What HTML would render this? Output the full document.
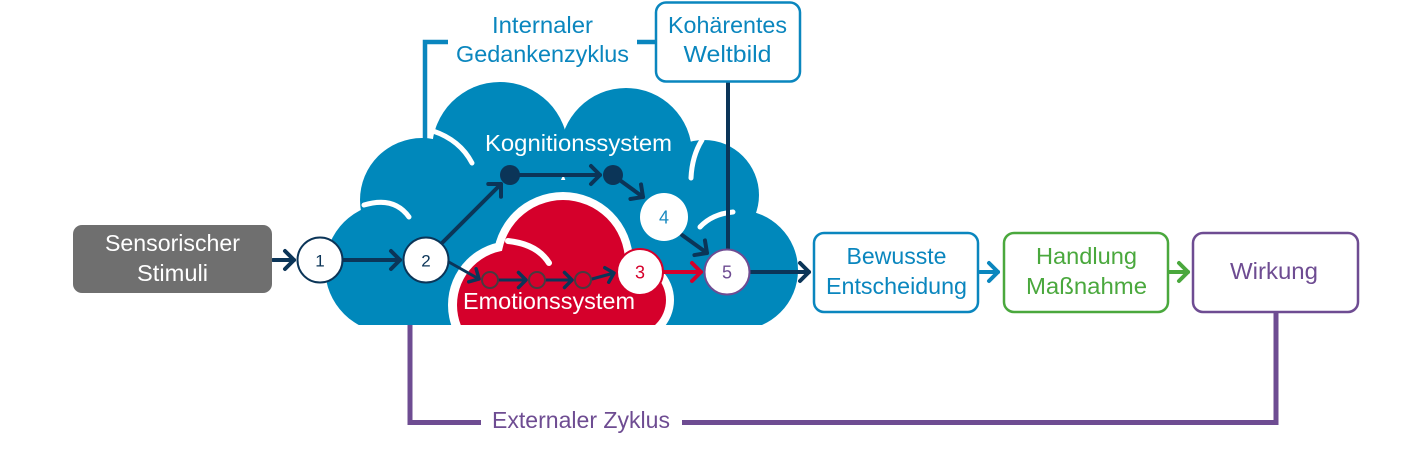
<!DOCTYPE html>
<html>
<head>
<meta charset="utf-8">
<style>
  html,body{margin:0;padding:0;background:#ffffff;}
  svg{display:block;}
  text{font-family:"Liberation Sans","DejaVu Sans",sans-serif;}
</style>
</head>
<body>
<svg width="1417" height="453" viewBox="0 0 1417 453" xmlns="http://www.w3.org/2000/svg">
  <defs>
    <marker id="mN" viewBox="0 0 24 24" refX="12" refY="12" markerWidth="24" markerHeight="24" markerUnits="userSpaceOnUse" orient="auto" overflow="visible">
      <path d="M3,3 L12,12 L3,21" fill="none" stroke="#0b3558" stroke-width="4" stroke-linecap="round" stroke-linejoin="round"/>
    </marker>
    <marker id="mS" viewBox="0 0 24 24" refX="12" refY="12" markerWidth="24" markerHeight="24" markerUnits="userSpaceOnUse" orient="auto" overflow="visible">
      <path d="M4.5,4.5 L12,12 L4.5,19.5" fill="none" stroke="#0b3558" stroke-width="3.5" stroke-linecap="round" stroke-linejoin="round"/>
    </marker>
    <marker id="mR" viewBox="0 0 24 24" refX="12" refY="12" markerWidth="24" markerHeight="24" markerUnits="userSpaceOnUse" orient="auto" overflow="visible">
      <path d="M3,3 L12,12 L3,21" fill="none" stroke="#d5002b" stroke-width="4" stroke-linecap="round" stroke-linejoin="round"/>
    </marker>
    <marker id="mB" viewBox="0 0 24 24" refX="12" refY="12" markerWidth="24" markerHeight="24" markerUnits="userSpaceOnUse" orient="auto" overflow="visible">
      <path d="M3,3 L12,12 L3,21" fill="none" stroke="#0a86be" stroke-width="4" stroke-linecap="round" stroke-linejoin="round"/>
    </marker>
    <marker id="mG" viewBox="0 0 24 24" refX="12" refY="12" markerWidth="24" markerHeight="24" markerUnits="userSpaceOnUse" orient="auto" overflow="visible">
      <path d="M3,3 L12,12 L3,21" fill="none" stroke="#4aa83d" stroke-width="4" stroke-linecap="round" stroke-linejoin="round"/>
    </marker>
    <clipPath id="cl"><rect x="0" y="0" width="1417" height="325"/></clipPath>
  </defs>

  <!-- Internal cycle line -->
  <path d="M425,142 L425,42 L448,42" fill="none" stroke="#0a86be" stroke-width="4.5"/>
  <path d="M637,42 L656,42" fill="none" stroke="#0a86be" stroke-width="4.5"/>

  <!-- External cycle line -->
  <path d="M410,322 L410,422.5 L481,422.5" fill="none" stroke="#6e4c92" stroke-width="5"/>
  <path d="M682,422.5 L1276,422.5 L1276,313" fill="none" stroke="#6e4c92" stroke-width="5"/>

  <!-- Blue cloud -->
  <g clip-path="url(#cl)" fill="#0088bb">
    <circle cx="500" cy="150" r="68"/>
    <circle cx="626" cy="154" r="66"/>
    <circle cx="422" cy="200" r="62"/>
    <circle cx="390" cy="268" r="65"/>
    <circle cx="704" cy="195" r="55"/>
    <circle cx="738" cy="270" r="60"/>
    <rect x="380" y="180" width="360" height="150"/>
  </g>
  <!-- white highlight arcs on blue cloud -->
  <g fill="none" stroke="#ffffff" stroke-width="5" stroke-linecap="round">
    <path d="M433,131 Q460,140 472,163"/>
    <path d="M364,205 Q394,196 409,217"/>
    <path d="M702,140 Q692,156 691,178"/>
    <path d="M700,227 Q712,214 733,212"/>
  </g>

  <!-- Red cloud -->
  <g clip-path="url(#cl)">
    <g fill="#ffffff">
      <circle cx="563" cy="262" r="70"/>
      <circle cx="512" cy="305" r="64"/>
      <circle cx="632" cy="300" r="42"/>
      <rect x="470" y="275" width="190" height="60"/>
    </g>
    <g fill="#d5002b">
      <circle cx="563" cy="262" r="62"/>
      <circle cx="512" cy="305" r="55"/>
      <circle cx="632" cy="300" r="34"/>
      <rect x="480" y="280" width="175" height="60"/>
    </g>
  </g>
  <path d="M508,241 Q537,244 549,263" fill="none" stroke="#ffffff" stroke-width="6" stroke-linecap="round"/>

  <!-- Cloud labels -->
  <text x="578.5" y="151" font-size="23" fill="#ffffff" text-anchor="middle" textLength="187" lengthAdjust="spacingAndGlyphs">Kognitionssystem</text>
  <text x="549" y="309" font-size="23" fill="#ffffff" text-anchor="middle" textLength="172" lengthAdjust="spacingAndGlyphs">Emotionssystem</text>

  <!-- Vertical from Kohärentes box -->
  <path d="M728,82 L728,250" stroke="#0b3558" stroke-width="4" fill="none"/>

  <!-- Arrows navy -->
  <g fill="none" stroke="#0b3558" stroke-width="4" stroke-linecap="round">
    <path d="M273,260 L294,260" marker-end="url(#mN)"/>
    <path d="M344,260 L400,260" marker-end="url(#mN)"/>
    <path d="M442,243 L501,184" marker-end="url(#mN)"/>
    <path d="M520,175 L600,175" marker-end="url(#mN)"/>
    <path d="M621,181 L643,197" marker-end="url(#mN)"/>
    <path d="M682,235 L707,253" marker-end="url(#mN)"/>
    <path d="M751,272 L809,272" marker-end="url(#mN)"/>
  </g>
  <g fill="none" stroke="#0b3558" stroke-width="3" stroke-linecap="round">
    <path d="M447,261 L479,279" marker-end="url(#mS)"/>
    <path d="M499,280 L526,280" marker-end="url(#mS)"/>
    <path d="M546,280 L572,280" marker-end="url(#mS)"/>
    <path d="M592,279 L614,273" marker-end="url(#mS)"/>
  </g>
  <path d="M664,272 L701,272" fill="none" stroke="#d5002b" stroke-width="4" stroke-linecap="round" marker-end="url(#mR)"/>
  <path d="M980,272 L998,272" fill="none" stroke="#0a86be" stroke-width="4" stroke-linecap="round" marker-end="url(#mB)"/>
  <path d="M1169,272 L1188,272" fill="none" stroke="#4aa83d" stroke-width="4" stroke-linecap="round" marker-end="url(#mG)"/>

  <!-- Dark dots -->
  <circle cx="510" cy="175" r="10" fill="#0b3558"/>
  <circle cx="613" cy="175" r="10" fill="#0b3558"/>

  <!-- Small emotion circles -->
  <g fill="#d5002b" stroke="#4a3a40" stroke-width="2">
    <circle cx="490" cy="280" r="8"/>
    <circle cx="537" cy="280" r="8"/>
    <circle cx="583" cy="280" r="8"/>
  </g>

  <!-- Nodes -->
  <circle cx="320" cy="260" r="22.5" fill="#ffffff" stroke="#0b3558" stroke-width="2"/>
  <text x="320" y="266.5" font-size="17" fill="#0b3558" text-anchor="middle">1</text>
  <circle cx="426" cy="260" r="22.5" fill="#ffffff" stroke="#0b3558" stroke-width="2"/>
  <text x="426" y="266.5" font-size="17" fill="#0b3558" text-anchor="middle">2</text>
  <circle cx="640" cy="272" r="23" fill="#ffffff" stroke="#d5002b" stroke-width="2"/>
  <text x="640" y="278.5" font-size="18" fill="#d5002b" text-anchor="middle">3</text>
  <circle cx="664" cy="217" r="24" fill="#ffffff"/>
  <text x="664" y="223.5" font-size="18" fill="#1a8ac0" text-anchor="middle">4</text>
  <circle cx="727" cy="272" r="22.5" fill="#ffffff" stroke="#6e4c92" stroke-width="2"/>
  <text x="727" y="278.5" font-size="18" fill="#6e4c92" text-anchor="middle">5</text>

  <!-- Sensorischer Stimuli -->
  <rect x="73" y="225" width="199" height="68" rx="9" ry="9" fill="#6f6f6f"/>
  <text x="172.5" y="251" font-size="23" fill="#ffffff" text-anchor="middle" textLength="135" lengthAdjust="spacingAndGlyphs">Sensorischer</text>
  <text x="172.5" y="281" font-size="23" fill="#ffffff" text-anchor="middle" textLength="71" lengthAdjust="spacingAndGlyphs">Stimuli</text>

  <!-- Internaler Gedankenzyklus -->
  <text x="542.5" y="33" font-size="23" fill="#0a86be" text-anchor="middle" textLength="101" lengthAdjust="spacingAndGlyphs">Internaler</text>
  <text x="542.5" y="62" font-size="23" fill="#0a86be" text-anchor="middle" textLength="173" lengthAdjust="spacingAndGlyphs">Gedankenzyklus</text>

  <!-- Kohärentes Weltbild -->
  <rect x="656" y="2.5" width="144" height="79" rx="10" ry="10" fill="#ffffff" stroke="#0a86be" stroke-width="2.5"/>
  <text x="727.5" y="33" font-size="23" fill="#0a86be" text-anchor="middle" textLength="119" lengthAdjust="spacingAndGlyphs">Kohärentes</text>
  <text x="727.5" y="62" font-size="23" fill="#0a86be" text-anchor="middle" textLength="88" lengthAdjust="spacingAndGlyphs">Weltbild</text>

  <!-- Bewusste Entscheidung -->
  <rect x="814" y="233" width="164" height="79" rx="10" ry="10" fill="#ffffff" stroke="#0a86be" stroke-width="2.5"/>
  <text x="896.5" y="264" font-size="23" fill="#0a86be" text-anchor="middle" textLength="100" lengthAdjust="spacingAndGlyphs">Bewusste</text>
  <text x="896.5" y="294" font-size="23" fill="#0a86be" text-anchor="middle" textLength="141" lengthAdjust="spacingAndGlyphs">Entscheidung</text>

  <!-- Handlung Maßnahme -->
  <rect x="1004" y="233" width="164" height="79" rx="10" ry="10" fill="#ffffff" stroke="#4aa83d" stroke-width="2.5"/>
  <text x="1086.5" y="264" font-size="23" fill="#4aa83d" text-anchor="middle" textLength="101" lengthAdjust="spacingAndGlyphs">Handlung</text>
  <text x="1086.5" y="294" font-size="23" fill="#4aa83d" text-anchor="middle" textLength="121" lengthAdjust="spacingAndGlyphs">Maßnahme</text>

  <!-- Wirkung -->
  <rect x="1193" y="233" width="165" height="79" rx="10" ry="10" fill="#ffffff" stroke="#6e4c92" stroke-width="2.5"/>
  <text x="1274" y="279" font-size="23" fill="#6e4c92" text-anchor="middle" textLength="88" lengthAdjust="spacingAndGlyphs">Wirkung</text>

  <!-- Externaler Zyklus -->
  <text x="581" y="428" font-size="23" fill="#6e4c92" text-anchor="middle" textLength="178" lengthAdjust="spacingAndGlyphs">Externaler Zyklus</text>
</svg>
</body>
</html>
